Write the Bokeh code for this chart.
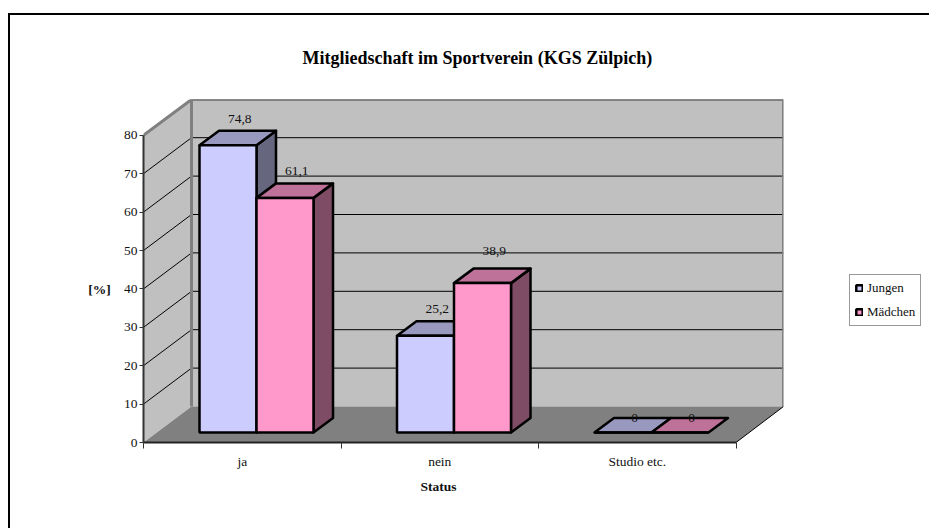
from bokeh.plotting import figure
from bokeh.embed import file_html
from bokeh.resources import INLINE
from bokeh.models import (Range1d, FixedTicker, Legend, LegendItem, Title, Label)
from bokeh.core.properties import value

categories = ["ja", "nein", "Studio etc."]
series_names = ["Jungen", "Mädchen"]
jungen = [74.8, 25.2, 0]
maedchen = [61.1, 38.9, 0]
value_labels = [["74,8", "25,2", "0"], ["61,1", "38,9", "0"]]
y_ticks = [0, 10, 20, 30, 40, 50, 60, 70, 80]

FONT = "Liberation Serif"
FS = "13.5px"
INK = "#111111"
LEFT, RIGHT, TOP, BOTTOM = 143, 783, 99, 442      # frame, page pixels
W = 929; H = 528
PX_X = 197.5; PX_Y = 3.84
xr = (RIGHT - LEFT) / PX_X
yr = (BOTTOM - TOP) / PX_Y
WDX, WDY = 48 / PX_X, 36 / PX_Y      # wall depth
BDX, BDY = 19.5 / PX_X, 14.5 / PX_Y  # bar depth
BASE = 10 / PX_Y
GAP = 56 / PX_X
BW = 57 / PX_X
# pixel lift of each data label above its bar's back edge
LIFT = [[12, 12, 0], [12, 18, 0]]

p = figure(width=W, height=H, output_backend="svg", toolbar_location=None,
           x_range=Range1d(0, xr), y_range=Range1d(0, yr),
           frame_width=RIGHT - LEFT, frame_height=BOTTOM - TOP,
           min_border_left=LEFT, min_border_top=TOP,
           min_border_right=W - RIGHT, min_border_bottom=H - BOTTOM,
           background_fill_color="white", border_fill_color="white", outline_line_color=None)
p.grid.visible = False
p.stylesheets = [":host::before { content: ''; position: absolute; left: 8px; top: 13px; right: 0; bottom: 0;"
                 " border-left: 2px solid black; border-top: 2px solid black; z-index: 5; pointer-events: none; }"]

# walls and floor
p.patch([0, WDX, WDX, 0], [0, WDY, 80 + WDY, 80], fill_color="#C0C0C0", line_color=None)
p.patch([WDX, xr, xr, WDX], [WDY, WDY, yr, yr], fill_color="#C0C0C0", line_color=None)
p.patch([0, 3, xr, WDX], [0, 0, WDY, WDY], fill_color="#808080", line_color=None)
# gridlines
for t in y_ticks[1:]:
    p.line([0, WDX, xr], [t, t + WDY, t + WDY], line_color="black", line_width=1)
# wall edges
p.line([0, WDX, xr, xr], [80, yr, yr, WDY], line_color="#808080", line_width=3)
p.line([WDX, WDX], [WDY, yr], line_color="#808080", line_width=3)
p.line([3, xr], [0, WDY], line_color="black", line_width=1)

# bars
legend_renderers = []
for s, (vals, front, top_c, side) in enumerate([
        (jungen, "#CCCCFF", "#9999BF", "#66667F"),
        (maedchen, "#FF99CC", "#BF7299", "#7F4C66")]):
    r0 = None
    for i, v in enumerate(vals):
        x0 = i + GAP + s * BW
        x1 = x0 + BW
        y0 = BASE
        y1 = BASE + v
        st = dict(line_color="black", line_width=2.5, line_join="round")
        if v > 0:
            p.patch([x1, x1 + BDX, x1 + BDX, x1], [y0, y0 + BDY, y1 + BDY, y1], fill_color=side, **st)
        p.patch([x0, x1, x1 + BDX, x0 + BDX], [y1, y1, y1 + BDY, y1 + BDY], fill_color=top_c, **st)
        q = p.quad(left=[x0], right=[x1], bottom=[y0], top=[y1], fill_color=front,
                   line_color="black", line_width=2.5)
        if r0 is None:
            r0 = q
        p.text([x0 + BW / 2 + BDX * 0.6], [y1 + BDY + LIFT[s][i] / PX_Y], text=[value_labels[s][i]],
               text_font=value(FONT), text_font_size=FS, text_color=INK,
               text_align="center", text_baseline="middle")
    legend_renderers.append(r0)

# axes
ax = p.yaxis[0]
ax.ticker = FixedTicker(ticks=y_ticks)
ax.bounds = (0, 80)
ax.major_label_text_font = FONT
ax.major_label_text_font_size = FS
ax.major_label_text_color = INK
ax.major_tick_in = 0
ax.major_tick_out = 4
ax.minor_tick_line_color = None
ax.axis_line_color = "#333333"
ax.axis_line_width = 2
ax.major_tick_line_color = "#333333"
ax.major_label_standoff = 2

bx = p.xaxis[0]
bx.ticker = FixedTicker(ticks=[0.5, 1.5, 2.5], minor_ticks=[0, 1, 2, 3])
bx.bounds = (0, 3)
bx.major_label_overrides = {0.5: categories[0], 1.5: categories[1], 2.5: categories[2]}
bx.major_tick_in = 0
bx.major_tick_out = 0
bx.minor_tick_in = 0
bx.minor_tick_out = 6
bx.minor_tick_line_color = "#333333"
bx.axis_line_color = "#222222"
bx.axis_line_width = 2
bx.major_label_text_font = FONT
bx.major_label_text_font_size = FS
bx.major_label_text_color = INK
bx.major_label_standoff = 5

# panel-relative positions of the two axis titles
for txt, lx, ly, side in [("[%]", 1, 153, "left"), ("Status", 295, 0, "below")]:
    p.add_layout(Label(text=txt, x=lx, y=ly, x_units="screen", y_units="screen",
                       text_font=FONT, text_font_size=FS, text_font_style="bold", text_color=INK,
                       text_align="center", text_baseline="middle"), side)

# legend
legend = Legend(items=[LegendItem(label=series_names[i], renderers=[legend_renderers[i]]) for i in range(2)],
                orientation="vertical",
                glyph_width=8, glyph_height=8, label_text_font=FONT, label_text_font_size="13px",
                label_text_color=INK, label_standoff=4, label_height=15,
                spacing=8, padding=5, margin=0,
                border_line_color="#333333", border_line_width=1, background_fill_color="white")
legend.location = (849 - RIGHT, BOTTOM - 326)
p.add_layout(legend, "right")

title = Title(text="Mitgliedschaft im Sportverein (KGS Zülpich)", align="left", offset=302 - LEFT,
              standoff=64, text_font=FONT, text_font_size="18px", text_font_style="bold",
              text_color="black")
p.add_layout(title, "above")

open("out.html", "w").write(file_html(p, INLINE))
